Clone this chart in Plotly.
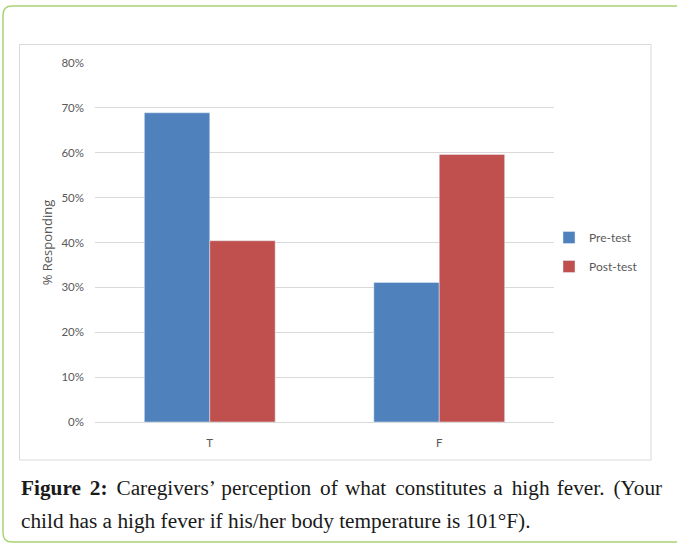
import plotly.graph_objects as go

categories = ["T", "F"]
pre_test = [0.689, 0.311]
post_test = [0.404, 0.596]
series_names = ["Pre-test", "Post-test"]
y_ticks = [0, 0.1, 0.2, 0.3, 0.4, 0.5, 0.6, 0.7, 0.8]
y_tick_labels = ["0%", "10%", "20%", "30%", "40%", "50%", "60%", "70%", "80%"]

W, H = 677, 545
L, R, T, B = 95, 554, 63, 422


def px(x):
    return (x - L) / (R - L)


def py(y):
    return (B - y) / (B - T)


fig = go.Figure()
fig.add_trace(go.Bar(x=categories, y=pre_test, name=series_names[0],
                     marker_color="#4f81bd", legendgroup="a"))
fig.add_trace(go.Bar(x=categories, y=post_test, name=series_names[1],
                     marker_color="#c0504d", legendgroup="b"))

tick_font = dict(family="Lato, Open Sans, sans-serif", size=11.5, color="#595959")

# outer green rounded border (right edge runs off the page)
r = 9
x0, y0, x1, y1 = 3, 6, 690, 542
path = (f"M {px(x1)},{py(y0)} L {px(x0 + r)},{py(y0)} "
        f"Q {px(x0)},{py(y0)} {px(x0)},{py(y0 + r)} "
        f"L {px(x0)},{py(y1 - r)} Q {px(x0)},{py(y1)} {px(x0 + r)},{py(y1)} "
        f"L {px(x1)},{py(y1)}")

shapes = [
    dict(type="path", xref="paper", yref="paper", path=path,
         line=dict(color="#a9d477", width=1.5), layer="below"),
    dict(type="rect", xref="paper", yref="paper",
         x0=px(19.5), x1=px(651), y0=py(44.5), y1=py(460),
         line=dict(color="#d9d9d9", width=1), layer="below"),
]

s6 = " \u2006"   # widened gap (justified line)
sh = " \u200a"
line1 = ("<b>Figure" + s6 + "2:</b>" + s6 + "Caregivers\u2019" + sh + "perception" + s6 + "of"
         + sh + "what" + s6 + "constitutes" + sh + "a" + s6 + "high" + sh + "fever." + s6 + "(Your")
line2 = "child has a high fever if his/her body temperature is 101\u00b0F)."
cap_font = dict(family="Liberation Serif, Times New Roman, serif", size=21.3, color="#1a1a1a")

fig.update_layout(
    width=W, height=H,
    margin=dict(l=L, r=W - R, t=T, b=H - B, autoexpand=False),
    paper_bgcolor="white", plot_bgcolor="white",
    barmode="group", bargap=0.43, bargroupgap=0,
    showlegend=True,
    legend=dict(x=px(549), y=py(252), xanchor="left", yanchor="middle",
                font=dict(family="Lato, Open Sans, sans-serif", size=12, color="#595959"),
                traceorder="grouped", tracegroupgap=10, itemwidth=30,
                bgcolor="rgba(0,0,0,0)"),
    xaxis=dict(showgrid=False, showline=False, zeroline=False, ticks="",
               tickfont=tick_font, ticklabelstandoff=12),
    yaxis=dict(range=[0, 0.8], tickvals=y_ticks, ticktext=y_tick_labels,
               showgrid=True, gridcolor="#d9d9d9", gridwidth=1,
               zeroline=True, zerolinecolor="#d9d9d9", zerolinewidth=1,
               showline=False, ticks="", tickfont=tick_font, ticklabelstandoff=10,
               title=dict(text="% Responding", standoff=5,
                          font=dict(family="Open Sans, sans-serif", size=13, color="#595959"))),
    shapes=shapes,
    annotations=[
        dict(text=line1, xref="paper", yref="paper", x=px(18.5), y=py(488),
             xanchor="left", yanchor="middle", align="left", showarrow=False, font=cap_font),
        dict(text=line2, xref="paper", yref="paper", x=px(18.5), y=py(520.5),
             xanchor="left", yanchor="middle", align="left", showarrow=False, font=cap_font),
    ],
)

fig.write_html("out.html", config={"displayModeBar": False},
               post_script="document.body.style.margin='0px';")
